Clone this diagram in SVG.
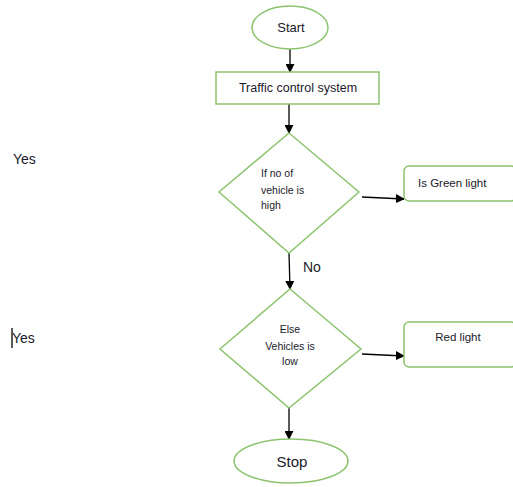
<svg xmlns="http://www.w3.org/2000/svg" width="513" height="487" viewBox="0 0 513 487">
<style>
.shape{fill:#fff;stroke:#8cc46e;stroke-width:1.5}
.t{font-family:"Liberation Sans",Arial,sans-serif;fill:#1a1a2a}
.c{stroke:#000;stroke-width:1.3;fill:none;marker-end:url(#ah)}
</style>
<defs>
<marker id="ah" viewBox="0 0 10 10" refX="9" refY="5" markerWidth="9" markerHeight="9" markerUnits="userSpaceOnUse" orient="auto">
<path d="M0,0 L10,5 L0,10 z" fill="#000"/>
</marker>
</defs>
<rect width="513" height="487" fill="#fff"/>
<g id="connectors">
<line class="c" x1="290" y1="49" x2="290" y2="72"/>
<line class="c" x1="289" y1="104" x2="289" y2="133"/>
<line class="c" x1="362" y1="197" x2="404" y2="199"/>
<line class="c" x1="289" y1="253" x2="290" y2="289"/>
<line class="c" x1="362" y1="354" x2="404" y2="356"/>
<line class="c" x1="289" y1="408" x2="289" y2="439"/>
</g>
<g id="start">
<ellipse class="shape" cx="290" cy="27.5" rx="38" ry="21.5"/>
<text class="t" x="291" y="32" font-size="13" text-anchor="middle">Start</text>
</g>
<g id="traffic">
<rect class="shape" x="216" y="72" width="163" height="32"/>
<text class="t" x="298" y="92" font-size="12.5" text-anchor="middle">Traffic control system</text>
</g>
<g id="decision1">
<polygon class="shape" points="289,133 359,192 289,253 219,192"/>
<text class="t" x="261" y="177" font-size="10.5">If no of</text>
<text class="t" x="261" y="194" font-size="10.5">vehicle is</text>
<text class="t" x="261" y="209" font-size="10.5">high</text>
</g>
<g id="green">
<rect class="shape" x="404" y="166" width="112" height="35" rx="5"/>
<text class="t" x="418" y="187" font-size="11.5">Is Green light</text>
</g>
<g id="decision2">
<polygon class="shape" points="290,289 361,349 289,408 220,349"/>
<text class="t" x="290" y="333" font-size="10.5" text-anchor="middle">Else</text>
<text class="t" x="290" y="350" font-size="10.5" text-anchor="middle">Vehicles is</text>
<text class="t" x="290" y="365" font-size="10.5" text-anchor="middle">low</text>
</g>
<g id="red">
<rect class="shape" x="404" y="322" width="112" height="45" rx="5"/>
<text class="t" x="458" y="341" font-size="11.5" text-anchor="middle">Red light</text>
</g>
<g id="stop">
<ellipse class="shape" cx="291" cy="461" rx="57" ry="22"/>
<text class="t" x="292" y="467" font-size="15" text-anchor="middle">Stop</text>
</g>
<g id="labels">
<text class="t" x="303" y="272" font-size="14">No</text>
<text class="t" x="13" y="164" font-size="14">Yes</text>
<text class="t" x="12" y="343" font-size="14">Yes</text>
<line x1="12" y1="328" x2="12" y2="348" stroke="#000" stroke-width="1.3"/>
</g>
</svg>
